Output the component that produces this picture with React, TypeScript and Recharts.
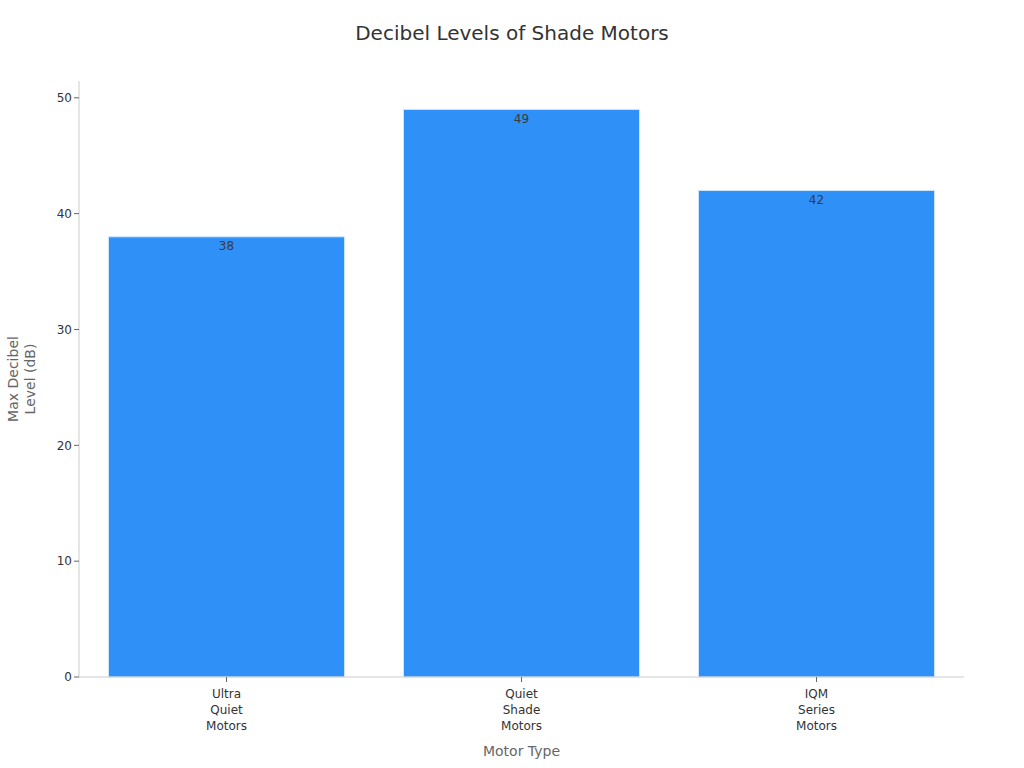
import React from 'react';
import { BarChart, Bar, XAxis, YAxis, LabelList } from 'recharts';

const categories = ['Ultra Quiet Motors', 'Quiet Shade Motors', 'IQM Series Motors'];
const decibels = [38, 49, 42];
const yTicks = [0, 10, 20, 30, 40, 50];

const data = categories.map((name, i) => ({ name, value: decibels[i] }));

const FONT = '"DejaVu Sans", Verdana, sans-serif';

const XTick = (props: any) => {
  const { x, y, payload } = props;
  const words = String(payload.value).split(' ');
  return (
    <g>
      {words.map((w: string, i: number) => (
        <text
          key={i}
          x={x}
          y={y + 10 + i * 16}
          textAnchor="middle"
          dominantBaseline="central"
          fontSize={12}
          fill="#333"
          fontFamily={FONT}
        >
          {w}
        </text>
      ))}
    </g>
  );
};

const XLabel = (props: any) => {
  const vb = props.viewBox || {};
  return (
    <text
      x={vb.x + vb.width / 2}
      y={751}
      textAnchor="middle"
      dominantBaseline="central"
      fontSize={14}
      fill="#666"
      fontFamily={FONT}
    >
      Motor Type
    </text>
  );
};

const YLabel = (props: any) => {
  const vb = props.viewBox || {};
  const cy = vb.y + vb.height / 2;
  const lines = ['Max Decibel', 'Level (dB)'];
  return (
    <g>
      {lines.map((l, i) => (
        <text
          key={i}
          x={13 + i * 17}
          y={cy}
          transform={`rotate(-90, ${13 + i * 17}, ${cy})`}
          textAnchor="middle"
          dominantBaseline="central"
          fontSize={14}
          fill="#666"
          fontFamily={FONT}
        >
          {l}
        </text>
      ))}
    </g>
  );
};

export default function App() {
  return (
    <div style={{ position: 'absolute', left: 0, top: 0, width: 1024, height: 768, background: '#fff' }}>
      <div
        style={{
          position: 'absolute',
          top: 20,
          left: 0,
          width: 1024,
          textAlign: 'center',
          fontSize: 20,
          lineHeight: '26px',
          color: '#333',
          fontFamily: FONT,
        }}
      >
        Decibel Levels of Shade Motors
      </div>
      <BarChart
        width={1024}
        height={768}
        data={data}
        margin={{ top: 81, right: 60, bottom: 0, left: 0 }}
        barCategoryGap="10%"
      >
        <XAxis
          dataKey="name"
          height={91}
          tick={<XTick />}
          tickSize={5}
          axisLine={{ stroke: '#ccc' }}
          tickLine={{ stroke: '#666' }}
          interval={0}
          label={<XLabel />}
        />
        <YAxis
          width={79}
          domain={[0, 51.45]}
          ticks={yTicks}
          tickSize={5}
          tick={{ fontSize: 12, fill: '#333', fontFamily: FONT }}
          axisLine={{ stroke: '#ccc' }}
          tickLine={{ stroke: '#666' }}
          label={<YLabel />}
        />
        <Bar dataKey="value" fill="#2F91F8" stroke="#cfe5fd" strokeWidth={1} isAnimationActive={false}>
          <LabelList
            dataKey="value"
            position="insideTop"
            offset={5}
            fontSize={12}
            fill="#3a3a3a"
            fontFamily={FONT}
          />
        </Bar>
      </BarChart>
    </div>
  );
}
